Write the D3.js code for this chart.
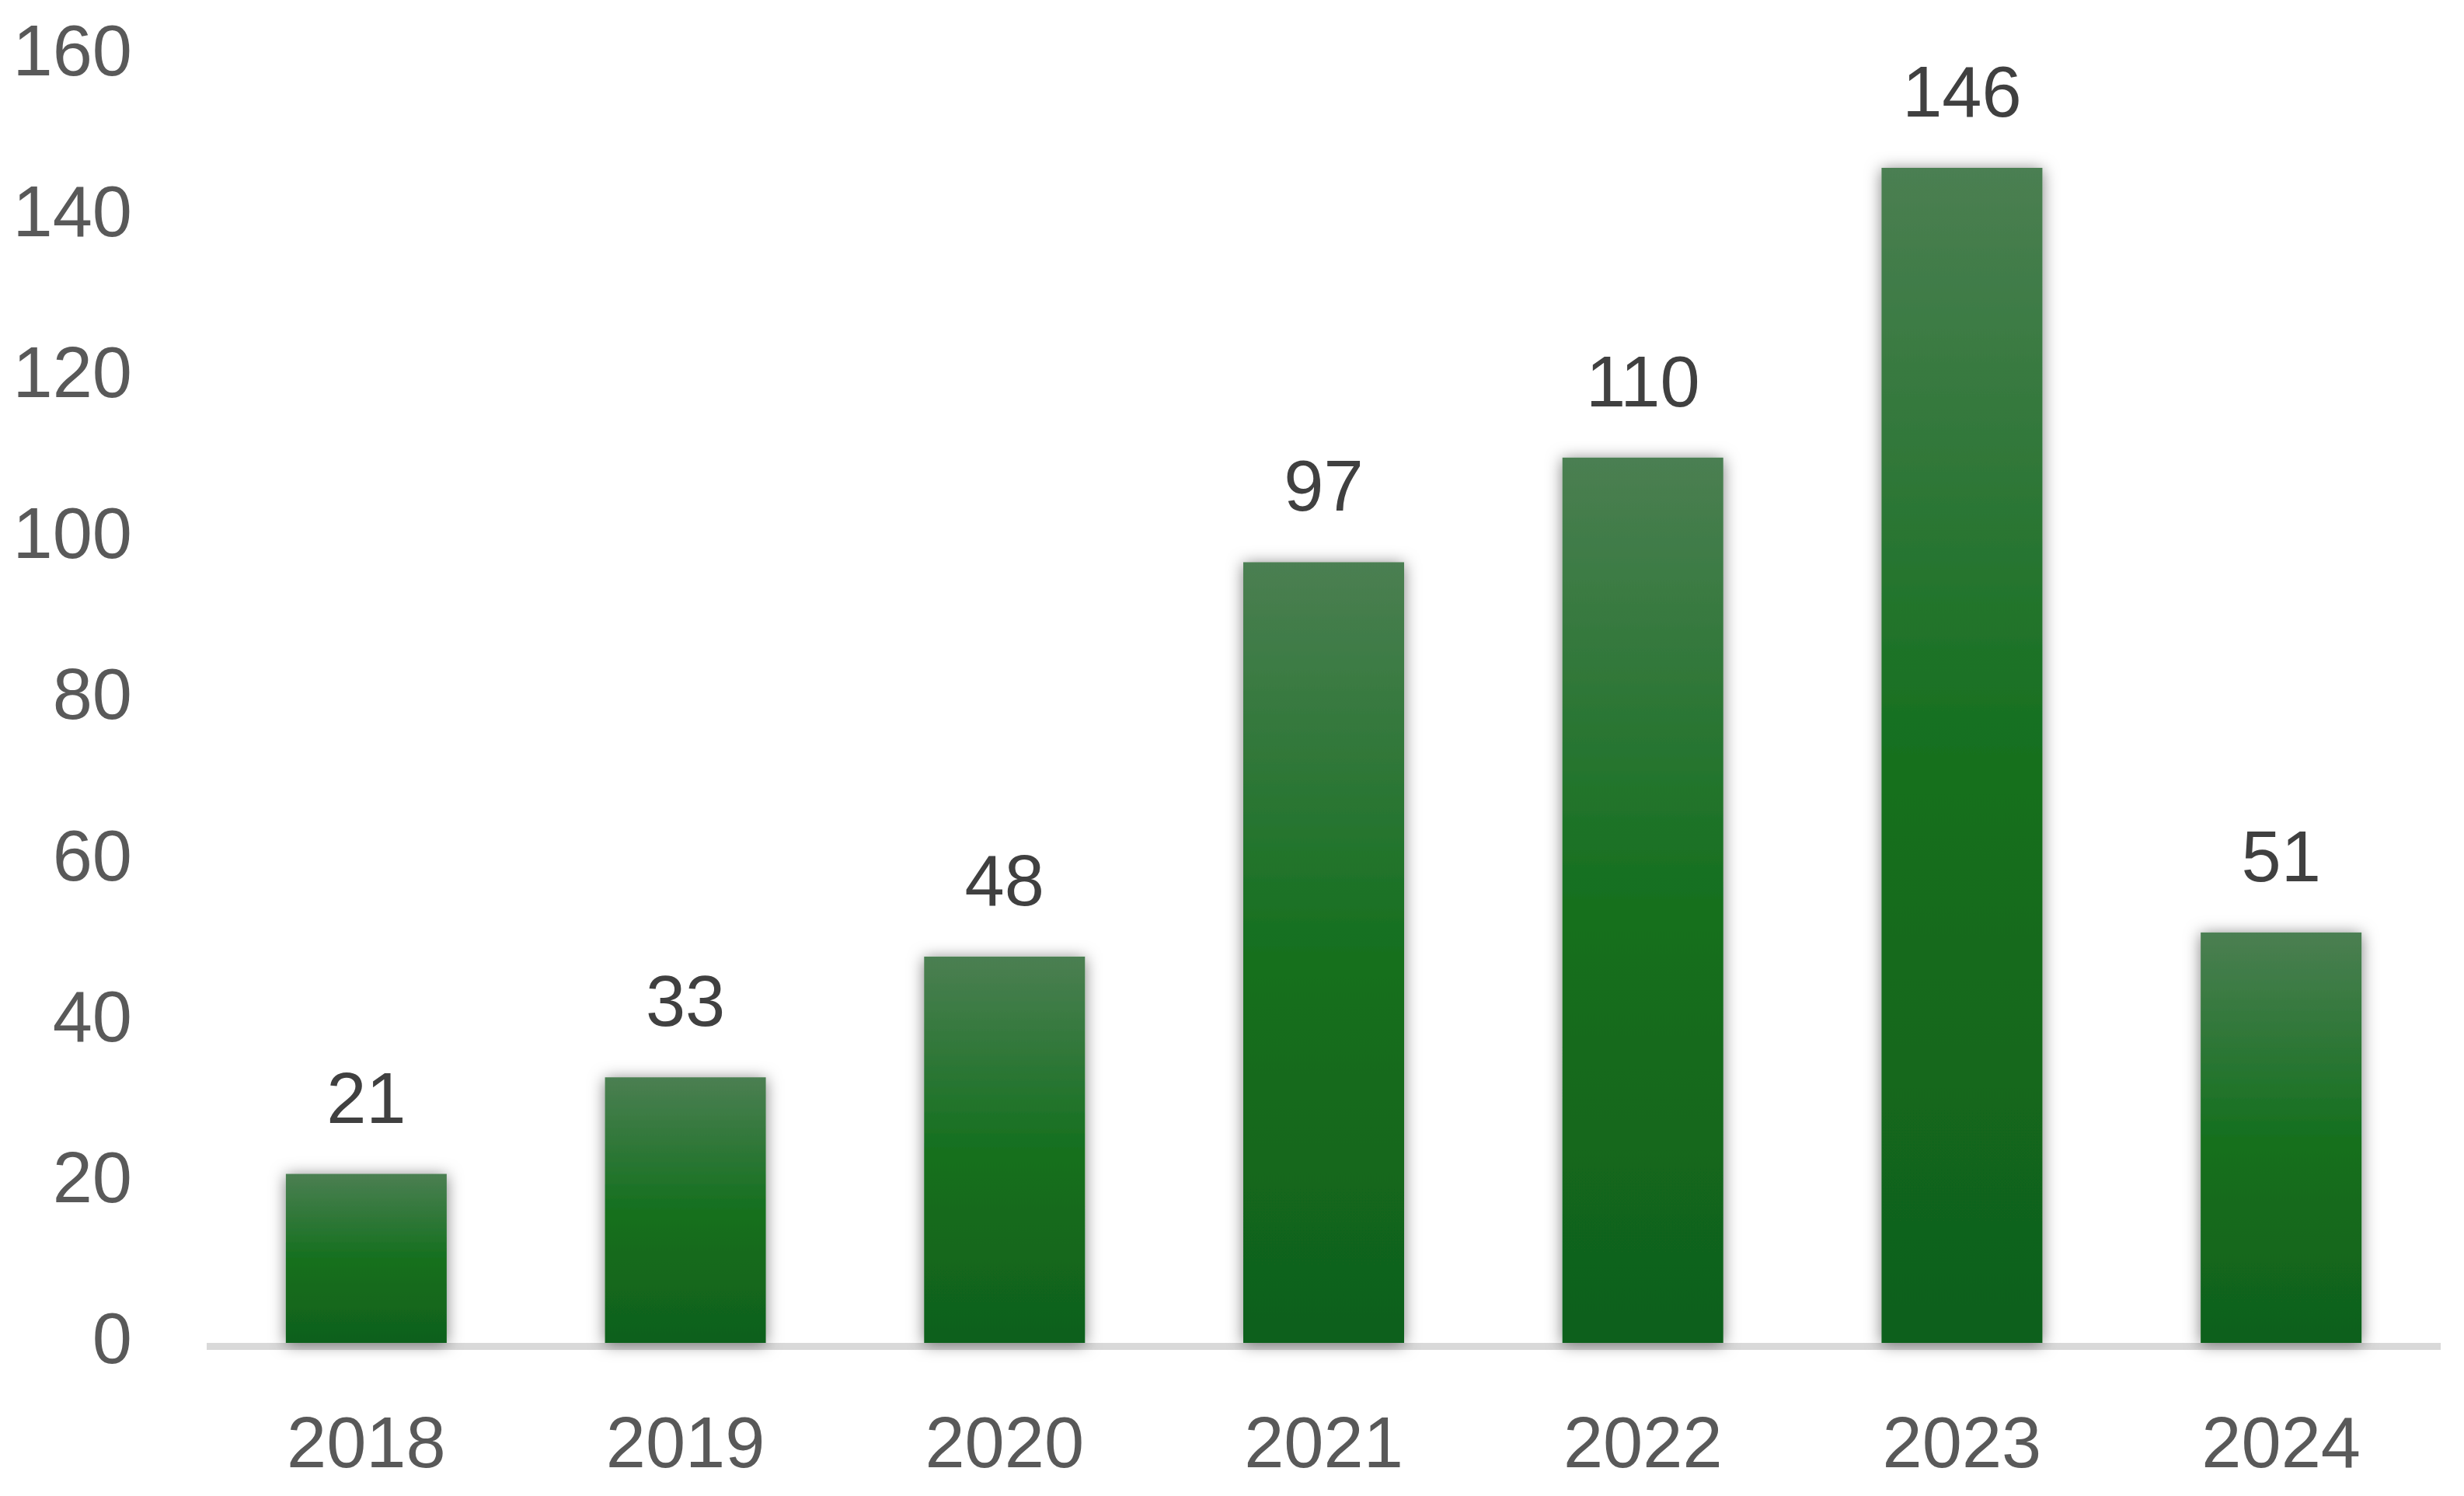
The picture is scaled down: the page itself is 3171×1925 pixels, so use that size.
<!DOCTYPE html>
<html>
<head>
<meta charset="utf-8">
<script src="https://cdn.jsdelivr.net/npm/d3@7"></script>
<style>
  html, body { margin: 0; padding: 0; background: #ffffff; }
  svg { display: block; }
  text { font-family: "Liberation Sans", Arial, sans-serif; }
</style>
</head>
<body>
<script>
const categories = ["2018", "2019", "2020", "2021", "2022", "2023", "2024"];
const values = [21, 33, 48, 97, 110, 146, 51];
const yTicks = [0, 20, 40, 60, 80, 100, 120, 140, 160];

const W = 3171, H = 1925;
const svg = d3.select("body").append("svg").attr("width", W).attr("height", H);

const defs = svg.append("defs");
const grad = defs.append("linearGradient").attr("id", "barGrad")
  .attr("x1", 0).attr("y1", 0).attr("x2", 0).attr("y2", 1);
grad.append("stop").attr("offset", "0%").attr("stop-color", "#4b7f52");
grad.append("stop").attr("offset", "50%").attr("stop-color", "#15701f");
grad.append("stop").attr("offset", "100%").attr("stop-color", "#10601a");

const filt = defs.append("filter").attr("id", "shadow")
  .attr("x", "-30%").attr("y", "-10%").attr("width", "160%").attr("height", "120%");
filt.append("feDropShadow").attr("dx", 0).attr("dy", 2).attr("stdDeviation", 10)
  .attr("flood-color", "#000").attr("flood-opacity", 0.5);

const x = d3.scaleBand().domain(categories).range([266, 3141])
  .paddingInner(0.496).paddingOuter(0.248);
const y = d3.scaleLinear().domain([0, 160]).range([1728, 71]);

// baseline
svg.append("line")
  .attr("x1", x.range()[0]).attr("x2", x.range()[1])
  .attr("y1", y(0) + 4.5).attr("y2", y(0) + 4.5)
  .attr("stroke", "#d9d9d9").attr("stroke-width", 9);

// y axis labels
const yAxis = d3.axisLeft(y).tickValues(yTicks).tickSize(0).tickPadding(0);
const gy = svg.append("g").attr("transform", "translate(170,0)").call(yAxis);
gy.select(".domain").remove();
gy.selectAll("text")
  .attr("font-size", 92).attr("fill", "#595959")
  .attr("font-family", "Liberation Sans, Arial, sans-serif")
  .attr("dy", "0.32em").attr("transform", "translate(0,-4)");

// x axis labels
const xAxis = d3.axisBottom(x).tickSize(0).tickPadding(0);
const gx = svg.append("g").attr("transform", "translate(0,1888)").call(xAxis);
gx.select(".domain").remove();
gx.selectAll("text")
  .attr("font-size", 92).attr("fill", "#595959")
  .attr("font-family", "Liberation Sans, Arial, sans-serif")
  .attr("dy", 0).attr("y", 0);

// bars
svg.append("g").selectAll("rect").data(values).join("rect")
  .attr("x", (d, i) => x(categories[i]))
  .attr("width", x.bandwidth())
  .attr("y", d => y(d))
  .attr("height", d => y(0) - y(d))
  .attr("fill", "url(#barGrad)")
  .attr("filter", "url(#shadow)");

// data labels
svg.append("g").selectAll("text").data(values).join("text")
  .attr("x", (d, i) => x(categories[i]) + x.bandwidth() / 2)
  .attr("y", d => y(d) - 66)
  .attr("text-anchor", "middle")
  .attr("font-size", 92).attr("fill", "#404040")
  .text(d => d);
</script>
</body>
</html>
